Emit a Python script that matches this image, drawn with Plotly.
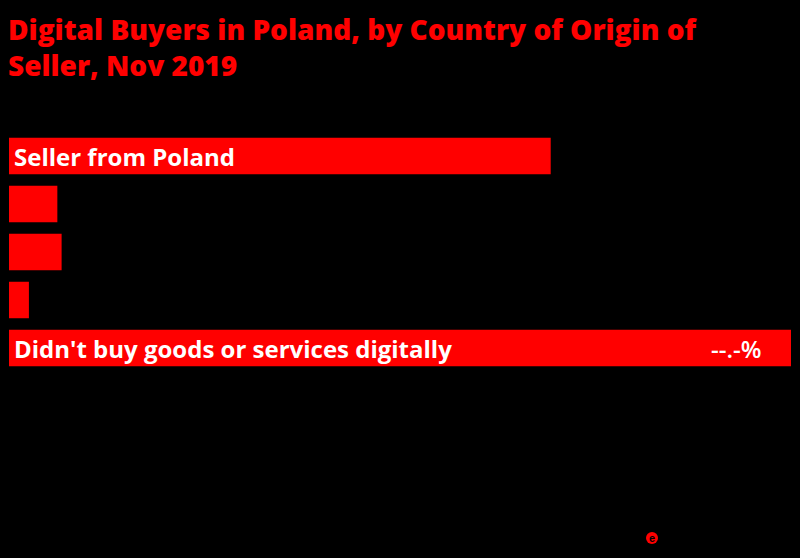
import plotly.graph_objects as go

categories = [
    "Seller from Poland",
    "Seller from China",
    "Seller from another EU country",
    "Seller from another country",
    "Didn't buy goods or services digitally",
]
values = [38.1, 3.4, 3.7, 1.4, 55.0]
value_labels = ["--.-%", "--.-%", "--.-%", "--.-%", "--.-%"]
# category / value labels visible in the reference (white text inside the long bars)
show_cat_label = [True, False, False, False, True]
show_value_label = [False, False, False, False, True]
title_text = "Digital Buyers in Poland, by Country of Origin of<br>Seller, Nov 2019"

RED = "#ff0000"
W, H = 800, 558
ML, MR, MT, MB = 9, 9, 132, 186
XMAX = 55.0
PH = H - MT - MB
PW = W - ML - MR


def py(pix):
    """pixel y from top of page -> paper y"""
    return (H - MB - pix) / PH


def px(pix):
    return (pix - ML) / PW


fig = go.Figure()
fig.add_trace(go.Bar(
    x=values,
    y=categories,
    orientation="h",
    marker=dict(color=RED, line=dict(width=0)),
    hoverinfo="skip",
))

for cat, val, lab, sc, sv in zip(categories, values, value_labels, show_cat_label, show_value_label):
    if sc:
        fig.add_annotation(
            x=0, y=cat, xref="x", yref="y", text=cat,
            xanchor="left", yanchor="middle", xshift=3, showarrow=False,
            font=dict(family="Open Sans", size=24, color="#ffffff", weight=700),
        )
    if sv:
        fig.add_annotation(
            x=val, y=cat, xref="x", yref="y", text=lab,
            xanchor="right", yanchor="middle", xshift=-28, showarrow=False,
            font=dict(family="Open Sans", size=24, color="#ffffff", weight=600),
        )

# small brand mark at the bottom
fig.add_shape(
    type="circle", xref="paper", yref="paper",
    x0=px(646), x1=px(658), y0=py(544), y1=py(532),
    fillcolor=RED, line=dict(width=0),
)
fig.add_annotation(
    x=px(652), y=py(538), xref="paper", yref="paper", text="<b>e</b>",
    xanchor="center", yanchor="middle", showarrow=False,
    font=dict(family="Liberation Sans", size=11, color="#000000"),
)

fig.update_layout(
    width=W, height=H,
    paper_bgcolor="#000000", plot_bgcolor="#000000",
    margin=dict(l=ML, r=MR, t=MT, b=MB),
    bargap=0.24,
    showlegend=False,
    title=dict(
        text=title_text,
        x=8 / W, xanchor="left", xref="container",
        y=1 - 40 / H, yanchor="top", yref="container",
        font=dict(family="Open Sans", size=28, color=RED, weight=800),
    ),
    xaxis=dict(range=[0, XMAX], visible=False, fixedrange=True),
    yaxis=dict(autorange="reversed", visible=False, fixedrange=True),
)

fig.write_html(
    "out.html",
    config={"displayModeBar": False},
    post_script="document.body.style.margin='0';document.body.style.background='#000';",
)
